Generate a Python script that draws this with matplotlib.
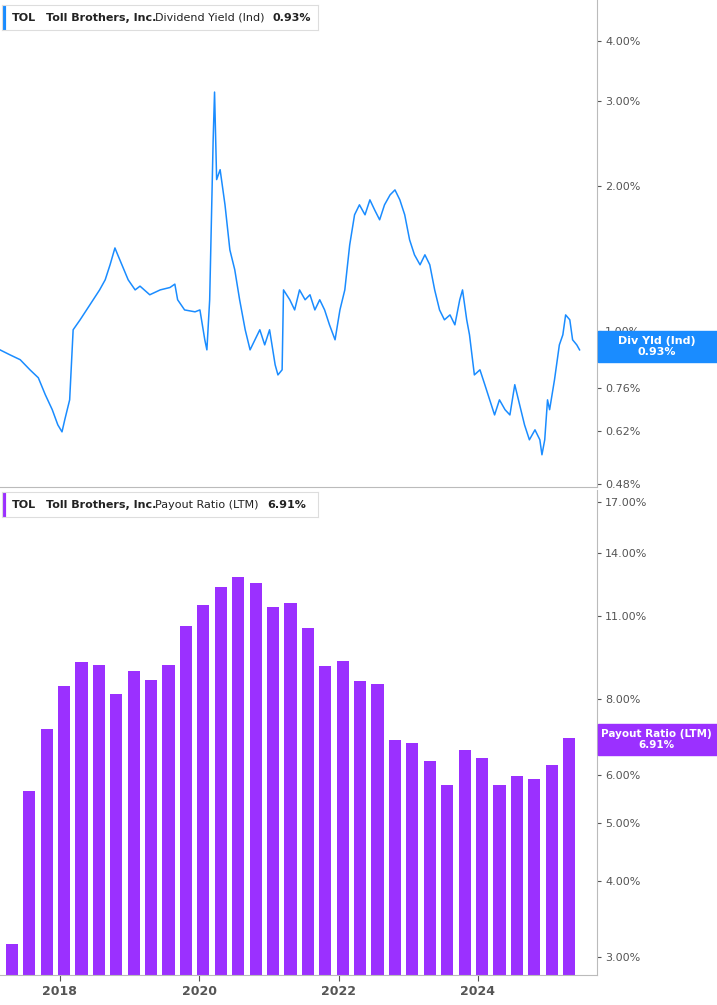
import matplotlib
matplotlib.use("Agg")
import matplotlib.pyplot as plt
from matplotlib.ticker import FixedLocator, NullLocator

yld_dates = [2017.14,2017.28,2017.43,2017.57,2017.69,2017.79,2017.89,2017.97,2018.03,2018.07,2018.14,2018.19,2018.29,2018.43,2018.57,2018.65,2018.72,2018.79,2018.83,2018.89,2018.98,2019.08,2019.15,2019.29,2019.44,2019.58,2019.65,2019.69,2019.79,2019.94,2020.01,2020.08,2020.11,2020.15,2020.20,2020.22,2020.25,2020.30,2020.37,2020.44,2020.51,2020.58,2020.66,2020.73,2020.80,2020.87,2020.94,2021.01,2021.09,2021.13,2021.19,2021.21,2021.30,2021.37,2021.44,2021.52,2021.59,2021.66,2021.73,2021.80,2021.87,2021.95,2022.02,2022.09,2022.16,2022.23,2022.30,2022.38,2022.45,2022.52,2022.59,2022.66,2022.74,2022.81,2022.88,2022.95,2023.02,2023.09,2023.17,2023.24,2023.31,2023.38,2023.45,2023.52,2023.60,2023.67,2023.74,2023.78,2023.84,2023.88,2023.95,2024.03,2024.10,2024.17,2024.24,2024.31,2024.39,2024.46,2024.53,2024.60,2024.67,2024.74,2024.82,2024.89,2024.92,2024.96,2025.00,2025.03,2025.10,2025.17,2025.22,2025.26,2025.32,2025.36,2025.42,2025.46]
yld_vals = [0.913,0.892,0.871,0.830,0.799,0.737,0.686,0.638,0.617,0.654,0.719,1.005,1.054,1.132,1.216,1.276,1.371,1.486,1.438,1.371,1.276,1.216,1.238,1.188,1.216,1.230,1.250,1.160,1.105,1.095,1.105,0.958,0.913,1.160,2.49,3.13,2.06,2.16,1.826,1.472,1.339,1.160,1.005,0.913,0.958,1.005,0.935,1.005,0.850,0.810,0.830,1.216,1.160,1.105,1.216,1.160,1.188,1.105,1.160,1.105,1.029,0.958,1.105,1.216,1.507,1.741,1.826,1.741,1.870,1.780,1.700,1.826,1.915,1.961,1.870,1.741,1.545,1.438,1.371,1.438,1.371,1.216,1.105,1.054,1.079,1.029,1.160,1.216,1.054,0.981,0.810,0.830,0.773,0.719,0.669,0.719,0.686,0.669,0.773,0.702,0.638,0.594,0.623,0.594,0.553,0.594,0.719,0.686,0.791,0.935,0.981,1.079,1.054,0.958,0.935,0.913]

bar_dates = [2017.31 + 0.25 * i for i in range(33)]
payout_vals = [3.15,5.64,7.14,8.42,9.22,9.12,8.16,8.91,8.61,9.12,10.6,11.46,12.27,12.74,12.46,11.4,11.55,10.5,9.09,9.25,8.58,8.47,6.85,6.77,6.33,5.77,6.6,6.39,5.77,5.98,5.9,6.24,6.91]

top_ticks = [0.48,0.62,0.76,1.00,2.00,3.00,4.00]
bot_ticks = [3.0,4.0,5.0,6.0,8.0,11.0,14.0,17.0]
x_ticks = [2018,2020,2022,2024]

BLUE = "#1a8cff"
PURPLE = "#9b30ff"
GREY = "#555555"

fig = plt.figure(figsize=(7.17,10.05), dpi=100)
ax1 = fig.add_axes([0, 0.5154, 0.8326, 0.4846])
ax2 = fig.add_axes([0, 0.0299, 0.8326, 0.4825])

for ax in (ax1, ax2):
    ax.set_yscale("log")
    ax.set_xlim(2017.14, 2025.71)
    for s in ("top","left"):
        ax.spines[s].set_visible(False)
    ax.spines["right"].set_color("#bbbbbb")
    ax.spines["bottom"].set_color("#bbbbbb")
    ax.yaxis.tick_right()
    ax.yaxis.set_minor_locator(NullLocator())
    ax.tick_params(axis="y", colors=GREY, labelsize=8, length=3, pad=3)
    ax.tick_params(axis="x", colors=GREY, labelsize=9, length=4)

ax1.plot(yld_dates, yld_vals, color=BLUE, lw=1.1)
ax1.set_ylim(0.474, 4.86)
ax1.yaxis.set_major_locator(FixedLocator(top_ticks))
ax1.set_yticklabels([f"{t:.2f}%" for t in top_ticks])
ax1.set_xticks([])

ax2.bar(bar_dates, payout_vals, width=0.175, color=PURPLE)
ax2.set_ylim(2.80, 17.77)
ax2.yaxis.set_major_locator(FixedLocator(bot_ticks))
ax2.set_yticklabels([f"{t:.2f}%" for t in bot_ticks])
ax2.set_xticks(x_ticks)
ax2.set_xticklabels([str(t) for t in x_ticks], fontweight="bold")

def header(rect, color, parts):
    bx = fig.add_axes(rect)
    bx.set_xlim(0, 1); bx.set_ylim(0, 1)
    bx.set_xticks([]); bx.set_yticks([])
    for s in bx.spines.values():
        s.set_color("#dddddd")
    bx.axvline(0.006, color=color, lw=3)
    for txt, w, x in parts:
        bx.text(x, 0.5, txt, fontsize=8, fontweight=w, va="center", color="#222222")
    return bx

header([0.003, 0.970, 0.44, 0.025], BLUE,
       [("TOL","bold",0.03),("Toll Brothers, Inc.","bold",0.14),("Dividend Yield (Ind)","normal",0.485),("0.93%","bold",0.857)])
header([0.003, 0.4855, 0.44, 0.025], PURPLE,
       [("TOL","bold",0.03),("Toll Brothers, Inc.","bold",0.14),("Payout Ratio (LTM)","normal",0.485),("6.91%","bold",0.84)])

fig.add_artist(plt.Rectangle((0.834, 0.640), 0.166, 0.031, transform=fig.transFigure, color=BLUE, zorder=5))
fig.text(0.916, 0.6555, "Div Yld (Ind)\n0.93%", ha="center", va="center", fontsize=8, color="white",
         fontweight="bold", linespacing=1.1, zorder=6)
fig.add_artist(plt.Rectangle((0.834, 0.249), 0.166, 0.031, transform=fig.transFigure, color=PURPLE, zorder=5))
fig.text(0.916, 0.2645, "Payout Ratio (LTM)\n6.91%", ha="center", va="center", fontsize=7.5, color="white",
         fontweight="bold", linespacing=1.1, zorder=6)

fig.savefig("out.png", dpi=100, facecolor="white")
